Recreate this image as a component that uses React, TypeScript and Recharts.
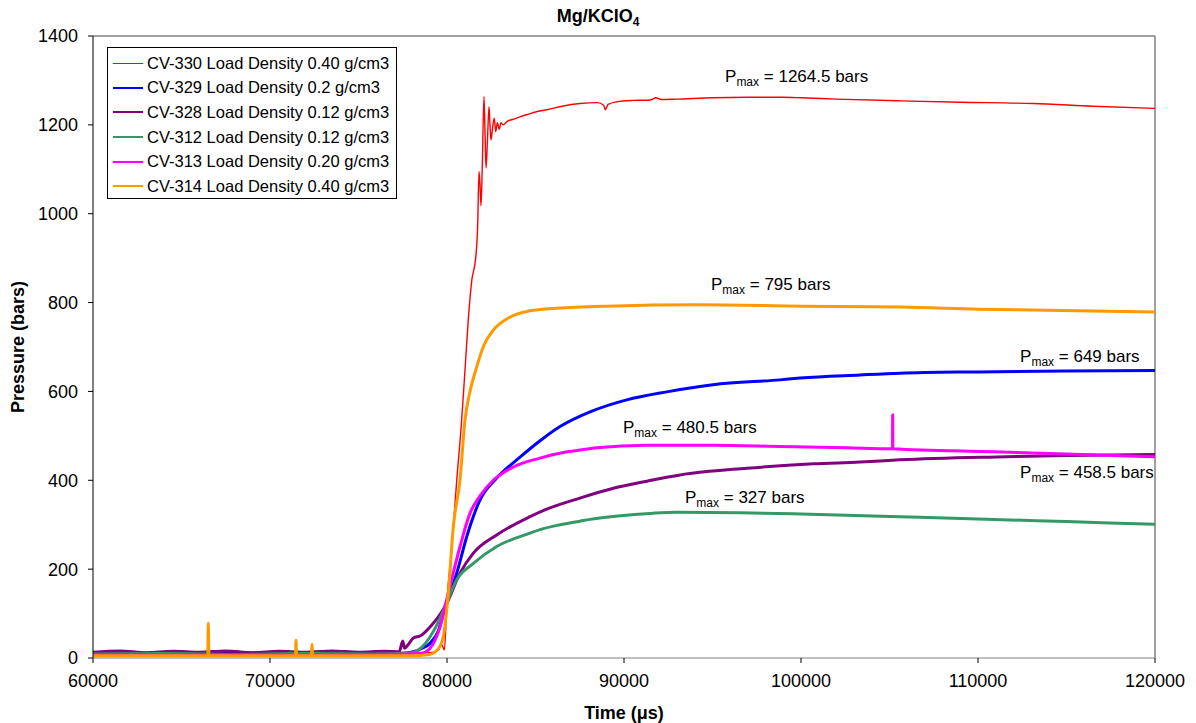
import {
	Line,
	LineChart,
	ReferenceDot,
	ReferenceLine,
	XAxis,
	YAxis,
} from "recharts";

// Pressure traces: [time (µs), pressure (bars)]
const cv330: [number, number][] = [
	[60000, 12], [62000, 14], [64000, 11], [66000, 13], [68000, 12], [70000, 14],
	[72000, 11], [74000, 13], [76000, 12], [78000, 13], [79000, 12], [79500, 18],
	[79700, 30], [79850, 18], [80000, 130], [80270, 250], [80550, 400], [80800, 520],
	[81020, 650], [81200, 760], [81400, 850], [81620, 900], [81730, 970], [81810, 1095],
	[81870, 1060], [81920, 1018], [81990, 1100], [82090, 1264], [82150, 1180],
	[82205, 1103], [82290, 1170], [82374, 1241], [82430, 1200], [82487, 1166],
	[82580, 1195], [82673, 1215], [82750, 1185], [82850, 1205], [82950, 1190],
	[83050, 1205], [83165, 1200], [83400, 1208], [83700, 1212], [84125, 1218],
	[84600, 1224], [85100, 1230], [85632, 1234], [86500, 1242], [87515, 1248],
	[88500, 1250], [88850, 1244], [88950, 1234], [89100, 1246], [89600, 1252],
	[90500, 1255], [91500, 1256], [91800, 1261], [92100, 1257], [93000, 1258],
	[95000, 1261], [97000, 1262], [99000, 1262], [100000, 1261], [102000, 1258],
	[105600, 1254], [109000, 1251], [113100, 1248], [116500, 1242], [120000, 1237],
];

const cv329: [number, number][] = [
	[60000, 10], [62000, 9], [64000, 11], [66000, 9], [68000, 10], [70000, 9],
	[72000, 11], [74000, 9], [76000, 10], [77500, 10], [78100, 14], [78600, 22],
	[79040, 33], [79500, 60], [79984, 128], [80549, 191], [81114, 273], [81866, 356],
	[82808, 405], [84125, 452], [85256, 489], [86386, 521], [88080, 554], [90153, 581],
	[92411, 599], [94296, 611], [95030, 615], [98816, 626], [99946, 630], [103336, 637],
	[105596, 641], [110000, 644], [115000, 646], [120000, 647],
];

const cv328: [number, number][] = [
	[60000, 13], [61500, 16], [63000, 12], [64500, 15], [66000, 13], [67500, 16],
	[69000, 12], [70500, 15], [72000, 13], [73500, 16], [75000, 13], [76500, 15],
	[77300, 14], [77500, 38], [77600, 22], [77800, 30], [78100, 45], [78500, 50],
	[79040, 70], [79500, 92], [79984, 123], [80735, 191], [81489, 236], [82808, 277],
	[84690, 318], [85632, 335], [87515, 360], [89397, 382], [91300, 398], [93165, 412],
	[96933, 427], [100700, 437], [103336, 441], [105596, 446], [111623, 453],
	[115000, 456], [120000, 458],
];

const cv312: [number, number][] = [
	[60000, 9], [64000, 10], [68000, 8], [72000, 10], [76000, 9], [78000, 12],
	[78600, 25], [79000, 45], [79500, 80], [79984, 125], [80549, 176], [81489, 213],
	[82808, 251], [84690, 281], [85256, 289], [86400, 300], [87515, 308], [88080, 312],
	[89500, 319], [91661, 326], [93000, 328], [96556, 327], [100000, 324],
	[105596, 318], [110000, 313], [115000, 307], [120000, 301],
];

const cv313: [number, number][] = [
	[60000, 8], [64000, 7], [68000, 8], [72000, 7], [76000, 8], [78500, 10],
	[79000, 20], [79606, 70], [79984, 131], [80735, 251], [81300, 326], [81866, 365],
	[82618, 400], [83750, 430], [85256, 450], [86500, 462], [87515, 468], [88458, 473],
	[91283, 479], [95030, 479], [98816, 476], [102583, 473], [105170, 471],
	[105180, 547], [105190, 471], [110868, 464], [115000, 459], [120000, 453],
];

const cv314: [number, number][] = [
	[60000, 5], [66480, 5], [66515, 79], [66550, 5], [71440, 5], [71470, 40],
	[71500, 5], [72340, 5], [72374, 31], [72410, 5], [78000, 5], [79000, 8],
	[79500, 20], [79800, 50], [80075, 146], [80358, 296], [80735, 401], [81018, 536],
	[81300, 600], [81679, 655], [82053, 701], [82618, 738], [83374, 763], [84505, 780],
	[86200, 787], [89025, 792], [94296, 795], [100000, 792], [105600, 790],
	[110000, 785], [120000, 779],
];

const series = [
	{ name: "CV-330 Load Density 0.40 g/cm3", color: "#FF0000", width: 1.4, points: cv330 },
	{ name: "CV-329 Load Density 0.2 g/cm3", color: "#0000FF", width: 3, points: cv329 },
	{ name: "CV-328 Load Density 0.12 g/cm3", color: "#800080", width: 3, points: cv328 },
	{ name: "CV-312 Load Density 0.12 g/cm3", color: "#339966", width: 3, points: cv312 },
	{ name: "CV-313 Load Density 0.20 g/cm3", color: "#FF00FF", width: 3, points: cv313 },
	{ name: "CV-314 Load Density 0.40 g/cm3", color: "#FF9900", width: 3, points: cv314 },
];

// peak pressure notes, anchored at the left end of the text baseline
const pmaxText = ["1264.5 bars", "795 bars", "649 bars", "480.5 bars", "458.5 bars", "327 bars"];
const pmaxTime = [95708, 94917, 112376, 89945, 112376, 93448];
const pmaxPressure = [1297, 828, 666, 506, 405, 349];

const timeTicks = [60000, 70000, 80000, 90000, 100000, 110000, 120000];
const pressureTicks = [0, 200, 400, 600, 800, 1000, 1200, 1400];

const FONT = "'Liberation Sans', Arial, sans-serif";

function PmaxNote(text: string) {
	return (props: any) => (
		<text x={props.cx} y={props.cy} fontFamily={FONT} fontSize={17} fill="#000">
			<tspan>P</tspan>
			<tspan fontSize={12} dy={4}>max</tspan>
			<tspan dy={-4}> = {text}</tspan>
		</text>
	);
}

export default function App() {
	return (
		<div
			style={{
				position: "absolute",
				left: 0,
				top: 0,
				width: 1196,
				height: 723,
				background: "#fff",
				fontFamily: FONT,
			}}
		>
			<LineChart
				width={1196}
				height={723}
				margin={{ top: 36, right: 41, bottom: 35, left: 33 }}
			>
				<XAxis
					type="number"
					dataKey="t"
					domain={[60000, 120000]}
					ticks={timeTicks}
					allowDataOverflow
					height={30}
					stroke="#808080"
					tickSize={5}
					tickMargin={11}
					tickLine={{ stroke: "#000" }}
					tick={{ fill: "#000", fontSize: 18, fontFamily: FONT }}
				/>
				<YAxis
					type="number"
					domain={[0, 1400]}
					ticks={pressureTicks}
					width={60}
					stroke="#000"
					tickSize={5}
					tickMargin={10}
					tick={{ fill: "#000", fontSize: 18, fontFamily: FONT }}
				/>
				<ReferenceLine y={1400} stroke="#808080" strokeWidth={1.5} />
				<ReferenceLine x={120000} stroke="#808080" strokeWidth={1.5} />
				{series.map((s) => (
					<Line
						key={s.name}
						name={s.name}
						data={s.points.map(([t, p]) => ({ t, p }))}
						dataKey="p"
						type="monotone"
						stroke={s.color}
						strokeWidth={s.width}
						dot={false}
						isAnimationActive={false}
					/>
				))}
				{pmaxText.map((text, i) => (
					<ReferenceDot
						key={text}
						x={pmaxTime[i]}
						y={pmaxPressure[i]}
						r={0}
						shape={PmaxNote(text)}
					/>
				))}
				<text
					x={598}
					y={22}
					textAnchor="middle"
					fontFamily={FONT}
					fontSize={18}
					fontWeight="bold"
				>
					Mg/KClO<tspan fontSize={12} dy={4}>4</tspan>
				</text>
				<text
					x={624}
					y={719}
					textAnchor="middle"
					fontFamily={FONT}
					fontSize={18}
					fontWeight="bold"
				>
					Time (μs)
				</text>
				<text
					x={24}
					y={347}
					textAnchor="middle"
					fontFamily={FONT}
					fontSize={18}
					fontWeight="bold"
					transform="rotate(-90 24 347)"
				>
					Pressure (bars)
				</text>
			</LineChart>
			<div
				style={{
					position: "absolute",
					left: 107,
					top: 47,
					width: 288,
					height: 147,
					border: "1px solid #000",
					background: "#fff",
					paddingTop: 3,
					boxSizing: "content-box",
				}}
			>
				{series.map((s) => (
					<div
						key={s.name}
						style={{
							display: "flex",
							alignItems: "center",
							height: 24.6,
							fontSize: 16.5,
							whiteSpace: "nowrap",
						}}
					>
						<span
							style={{
								display: "inline-block",
								width: 30,
								height: 0,
								borderTop: `${s.width < 2 ? 1 : 2}px solid ${s.color}`,
								marginLeft: 5,
								marginRight: 4,
							}}
						/>
						{s.name}
					</div>
				))}
			</div>
		</div>
	);
}
